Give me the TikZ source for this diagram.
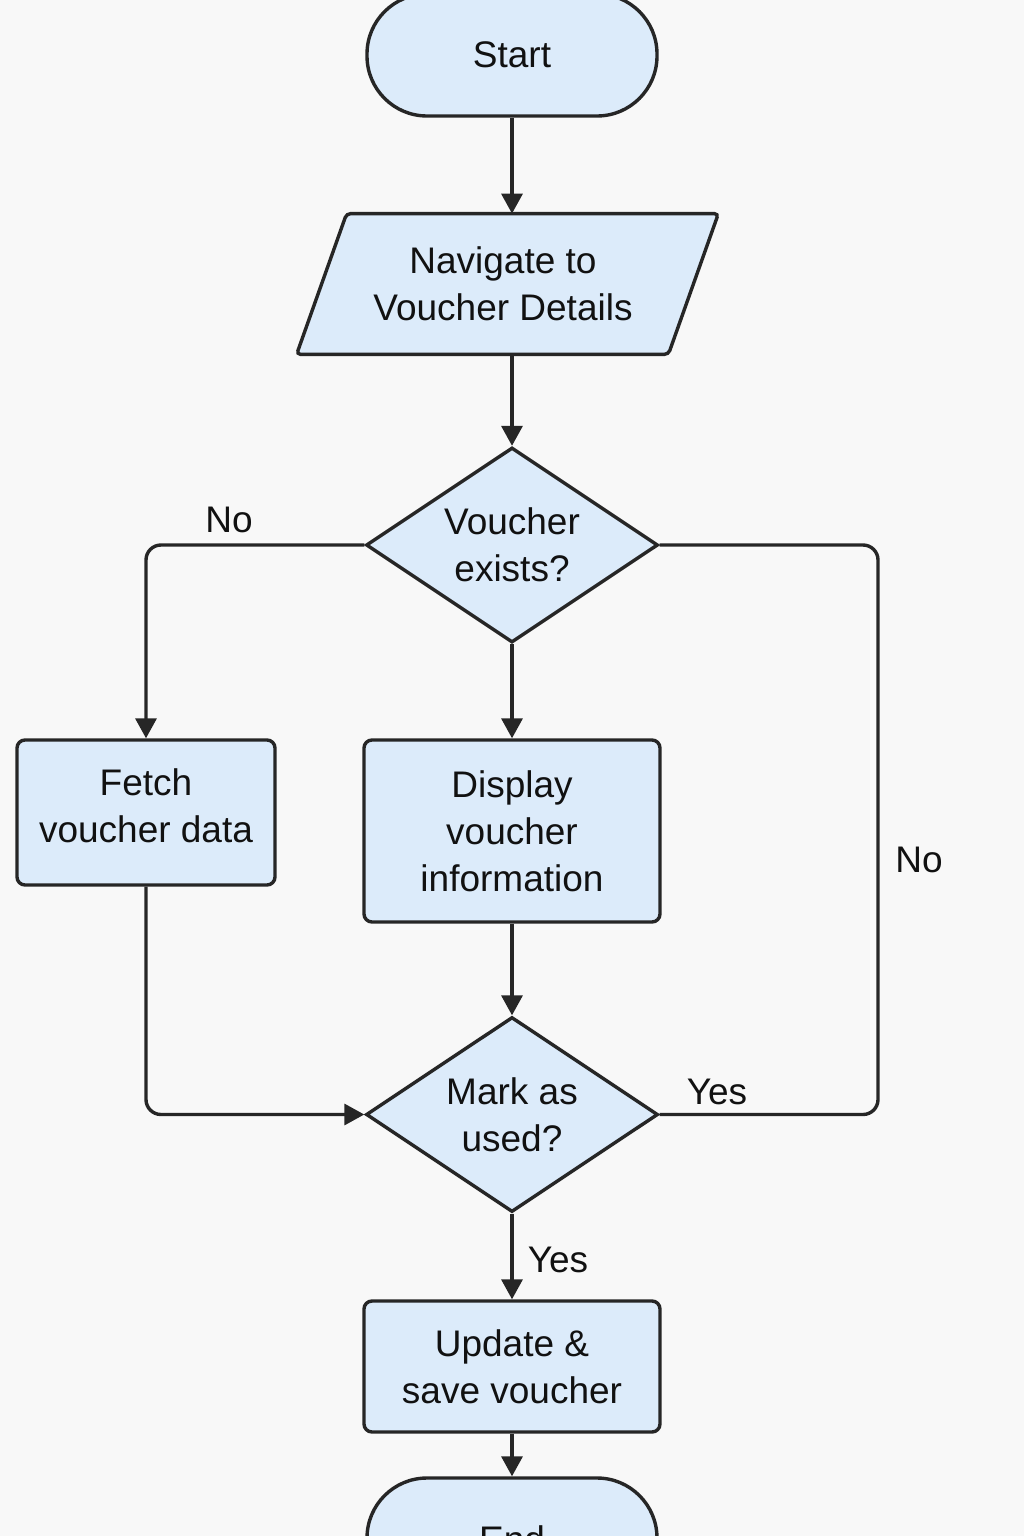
\documentclass[tikz,border=0pt]{standalone}
\usepackage{fontspec}
\setmainfont{Liberation Sans}
\usetikzlibrary{arrows.meta,shapes.geometric}
\definecolor{boxfill}{HTML}{DCEBFA}
\definecolor{linecol}{HTML}{262626}
\definecolor{bgcol}{HTML}{F8F8F8}
\definecolor{txtcol}{HTML}{111111}
\pgfdeclarelayer{back}
\pgfdeclarelayer{mid}
\pgfsetlayers{back,mid,main}
\begin{document}
\begin{tikzpicture}[x=0.5pt,y=-0.5pt,
  font=\fontsize{18.5}{23.5}\selectfont, text=txtcol,
  shapebase/.style={draw=linecol, fill=boxfill, line width=1.7pt, align=center, inner sep=0pt},
  terminal/.style={shapebase, rounded corners=30pt, minimum width=145pt, minimum height=61pt},
  procbox/.style={shapebase, rounded corners=4pt},
  decision/.style={shapebase, diamond, aspect=1.5, minimum width=146pt, minimum height=97.5pt},
  conn/.style={draw=linecol, line width=1.7pt, rounded corners=7.5pt, -{Triangle[length=10pt,width=10.5pt]}},
  plainline/.style={draw=linecol, line width=1.7pt, rounded corners=7.5pt},
  lbl/.style={inner sep=0pt}]
\begin{pgfonlayer}{back}
\fill[bgcol] (0,0) rectangle (1024,1536);
\end{pgfonlayer}
\useasboundingbox (0,0) rectangle (1024,1536);

\node[terminal] (start) at (512,55) {Start};
\node[align=center, inner sep=0pt, minimum width=185.5pt, minimum height=70pt] (nav) at (503,284) {Navigate to\\Voucher Details};
\begin{pgfonlayer}{mid}
\draw[draw=linecol, fill=boxfill, line width=1.7pt, rounded corners=2pt]
  ([xshift=14.75pt]nav.north west) -- ([xshift=14.75pt]nav.north east) --
  ([xshift=-10.25pt]nav.south east) -- ([xshift=-10.25pt]nav.south west) -- cycle;
\end{pgfonlayer}
\node[decision] (d1) at (512,545) {Voucher\\exists?};
\node[procbox, minimum width=129pt, minimum height=72.5pt, text depth=6.5pt] (fetch) at (146,812.5) {Fetch\\voucher data};
\node[procbox, minimum width=148pt, minimum height=91pt] (disp) at (512,831) {Display\\voucher\\information};
\node[decision] (d2) at (512,1114.5) {Mark as\\used?};
\node[procbox, minimum width=148pt, minimum height=65.5pt] (upd) at (512,1366.5) {Update \&\\save voucher};
\node[terminal] (end) at (512,1539) {End};

\coordinate (rt) at (878,545);

\draw[conn] (start.south) -- (start |- nav.north);
\draw[conn] (d1 |- nav.south) -- (d1.north);
\draw[conn] (d1.west) -| (fetch.north);
\draw[conn] (d1.south) -- (disp.north);
\draw[plainline] (d1.east) -- (rt) -- (rt |- d2.east) -- (d2.east);
\draw[conn] (fetch.south) |- (d2.west);
\draw[conn] (disp.south) -- (d2.north);
\draw[conn] (d2.south) -- (upd.north);
\draw[conn] (upd.south) -- (end.north);

\node[lbl] (no1) at (229,520) {No};
\node[lbl] (no2) at (919,860) {No};
\node[lbl] (yes1) at (717,1092) {Yes};
\node[lbl] (yes2) at (558,1260) {Yes};
\end{tikzpicture}
\end{document}
